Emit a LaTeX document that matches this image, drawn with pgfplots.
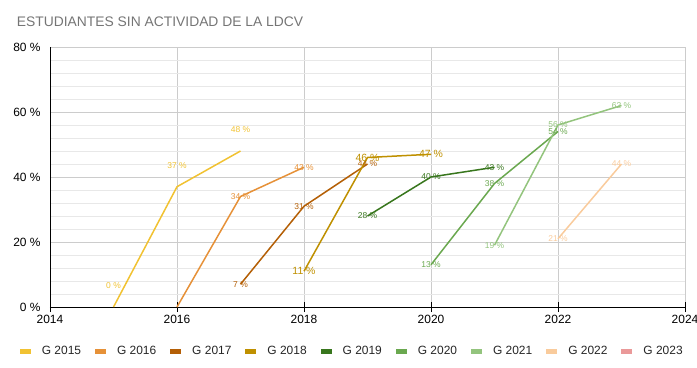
\documentclass[border=0pt]{standalone}
\usepackage{pgfplots}
\pgfplotsset{compat=1.18}
\usepackage{fontspec}
\setmainfont{Liberation Sans}
\definecolor{c15}{HTML}{F1C232}
\definecolor{c16}{HTML}{E69138}
\definecolor{c17}{HTML}{B45F06}
\definecolor{c18}{HTML}{BF9000}
\definecolor{c19}{HTML}{38761D}
\definecolor{c20}{HTML}{6AA84F}
\definecolor{c21}{HTML}{93C47D}
\definecolor{c22}{HTML}{F9CB9C}
\definecolor{c23}{HTML}{EA9999}
\definecolor{titlegray}{HTML}{757575}
\begin{document}
\begin{tikzpicture}
\path[use as bounding box] (-50bp,-61bp) rectangle (647bp,307bp);
\begin{axis}[
  at={(0,0)}, anchor=south west,
  scale only axis, width=635bp, height=260bp,
  xmin=2014, xmax=2024, ymin=0, ymax=80,
  clip=false,
  axis x line=bottom, axis y line=left,
  axis line style={-, black, line width=0.8bp},
  xtick={2014,2016,2018,2020,2022,2024},
  xticklabels={2014,2016,2018,2020,2022,2024},
  ytick={0,20,40,60,80},
  yticklabels={0 \%,20 \%,40 \%,60 \%,80 \%},
  minor ytick={4,8,12,16,24,28,32,36,44,48,52,56,64,68,72,76},
  xmajorgrids, ymajorgrids, yminorgrids,
  major grid style={draw=black!20, line width=0.8bp},
  minor grid style={draw=black!9, line width=0.8bp},
  tick align=center,
  major tick length=10bp,
  minor tick length=0pt,
  xtick style={black, line width=0.8bp},
  ytick style={draw=none},
  tick label style={font=\fontsize{12}{14}\selectfont, text=black},
  yticklabel style={xshift=-1bp},
  legend columns=9,
  legend style={draw=none, fill=none, at={(0.476,0)}, anchor=center, yshift=-44bp,
    font=\fontsize{12}{14}\selectfont, text=black!85,
    /tikz/every even column/.append style={column sep=12bp}},
  legend image code/.code={\fill[#1, draw=none] (0bp,-2.5bp) rectangle (11bp,2.5bp); \path[draw=none] (11bp,0) -- (20bp,0);},
  every axis plot/.append style={line width=1.5bp},
  point meta=explicit symbolic,
  nodes near coords,
]
\addplot[c15, every node near coord/.append style={font=\fontsize{8.5}{10}\selectfont, text=c15, anchor=center, yshift=21bp}]
  coordinates {(2015,0) [0 \%] (2016,37) [37 \%] (2017,48) [48 \%]};
\addlegendentry{G 2015}
\addplot[c16, every node near coord/.append style={font=\fontsize{8.5}{10}\selectfont, text=c16, anchor=center}]
  coordinates {(2016,0) [] (2017,34) [34 \%] (2018,43) [43 \%]};
\addlegendentry{G 2016}
\addplot[c17, every node near coord/.append style={font=\fontsize{8.5}{10}\selectfont, text=c17, anchor=center}]
  coordinates {(2017,7) [7 \%] (2018,31) [31 \%] (2019,44) [44 \%]};
\addlegendentry{G 2017}
\addplot[c18, every node near coord/.append style={font=\fontsize{10.5}{12}\selectfont, text=c18, anchor=center}]
  coordinates {(2018,11) [11 \%] (2019,46) [46 \%] (2020,47) [47 \%]};
\addlegendentry{G 2018}
\addplot[c19, every node near coord/.append style={font=\fontsize{8.5}{10}\selectfont, text=c19, anchor=center}]
  coordinates {(2019,28) [28 \%] (2020,40) [40 \%] (2021,43) [43 \%]};
\addlegendentry{G 2019}
\addplot[c20, every node near coord/.append style={font=\fontsize{8.5}{10}\selectfont, text=c20, anchor=center}]
  coordinates {(2020,13) [13 \%] (2021,38) [38 \%] (2022,54) [54 \%]};
\addlegendentry{G 2020}
\addplot[c21, every node near coord/.append style={font=\fontsize{8.5}{10}\selectfont, text=c21, anchor=center}]
  coordinates {(2021,19) [19 \%] (2022,56) [56 \%] (2023,62) [62 \%]};
\addlegendentry{G 2021}
\addplot[c22, every node near coord/.append style={font=\fontsize{8.5}{10}\selectfont, text=c22, anchor=center}]
  coordinates {(2022,21) [21 \%] (2023,44) [44 \%]};
\addlegendentry{G 2022}
\addlegendimage{c23}
\addlegendentry{G 2023}
\end{axis}
\node[anchor=base west, inner sep=0pt, text=titlegray, font=\fontsize{13.9}{16}\selectfont] at (-33.3bp,280.3bp) {ESTUDIANTES SIN ACTIVIDAD DE LA LDCV};
\end{tikzpicture}
\end{document}
